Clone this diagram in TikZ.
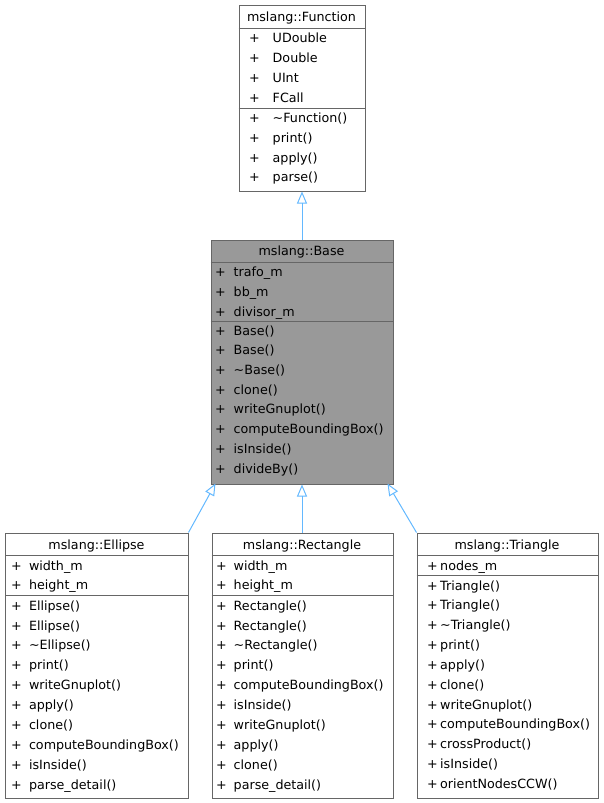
\documentclass[tikz,border=0pt]{standalone}
\usepackage{fontspec}
\setmainfont{DejaVu Sans}
\usetikzlibrary{arrows.meta}
\definecolor{edgeblue}{HTML}{63B8FF}
\definecolor{boxline}{HTML}{666666}
\definecolor{basefill}{HTML}{999999}
\tikzset{
  classbox/.style={draw=boxline, line width=1pt, fill=white, inner sep=0pt, anchor=north west},
  divider/.style={draw=boxline, line width=1pt},
  txt/.style={inner sep=0pt, anchor=base west, font=\fontsize{12.7}{15}\selectfont},
  ttl/.style={inner sep=0pt, anchor=base, font=\fontsize{12.7}{15}\selectfont},
  plus/.style={inner sep=0pt, anchor=base, font=\fontsize{12.7}{15}\selectfont},
  inh/.style={draw=edgeblue, line width=1pt, -{Triangle[open, length=12pt, width=10pt]}}
}
\begin{document}
\begin{tikzpicture}[x=1pt,y=-1pt]
\useasboundingbox (-0.5,-0.5) rectangle (602.5,802.5);
% ---------- Function ----------
\node[classbox, minimum width=126pt, minimum height=185pt] (fn) at (238,5) {};
\draw[divider] (238,28) -- (364,28);
\draw[divider] (238,108) -- (364,108);
\node[ttl] (fnt) at (301,21) {mslang::Function};
\foreach \t [count=\i] in {UDouble,Double,UInt,FCall,{\char"223C Function()},print(),apply(),parse()}{
  \pgfmathsetmacro\yy{ifthenelse(\i<5, 37+(\i-1)*20, 117.3+(\i-5)*19.8)+4.6}
  \node[plus] (fnp\i) at (254,\yy) {+};
  \node[txt] (fnr\i) at (272,\yy) {\t};
}
% ---------- Base ----------
\node[classbox, fill=basefill, minimum width=182pt, minimum height=244pt] (base) at (210,239) {};
\draw[divider] (210,262) -- (392,262);
\draw[divider] (210,321) -- (392,321);
\node[ttl] (baset) at (301,255) {mslang::Base};
\foreach \t [count=\i] in {trafo\_m,bb\_m,divisor\_m,Base(),Base(),{\char"223C Base()},clone(),writeGnuplot(),computeBoundingBox(),isInside(),divideBy()}{
  \pgfmathsetmacro\yy{ifthenelse(\i<4, 271.7+(\i-1)*19.6, 330+(\i-4)*19.7)+4.6}
  \node[plus] (bp\i) at (220,\yy) {+};
  \node[txt] (br\i) at (233,\yy) {\t};
}
% ---------- Ellipse ----------
\node[classbox, minimum width=182pt, minimum height=265pt] (ell) at (5,532) {};
\draw[divider] (5,555) -- (187,555);
\draw[divider] (5,595) -- (187,595);
\node[ttl] (ellt) at (96,548.5) {mslang::Ellipse};
\foreach \t [count=\i] in {width\_m,height\_m,Ellipse(),Ellipse(),{\char"223C Ellipse()},print(),writeGnuplot(),apply(),clone(),computeBoundingBox(),isInside(),parse\_detail()}{
  \pgfmathsetmacro\yy{ifthenelse(\i<3, 565+(\i-1)*19.5, 605+(\i-3)*19.9)+4.6}
  \node[plus] (ep\i) at (16,\yy) {+};
  \node[txt] (er\i) at (28.3,\yy) {\t};
}
% ---------- Rectangle ----------
\node[classbox, minimum width=181pt, minimum height=265pt] (rect) at (211,532) {};
\draw[divider] (211,555) -- (392,555);
\draw[divider] (211,595) -- (392,595);
\node[ttl] (rectt) at (301.5,548.5) {mslang::Rectangle};
\foreach \t [count=\i] in {width\_m,height\_m,Rectangle(),Rectangle(),{\char"223C Rectangle()},print(),computeBoundingBox(),isInside(),writeGnuplot(),apply(),clone(),parse\_detail()}{
  \pgfmathsetmacro\yy{ifthenelse(\i<3, 565+(\i-1)*19.5, 605+(\i-3)*19.9)+4.6}
  \node[plus] (rp\i) at (221,\yy) {+};
  \node[txt] (rr\i) at (233,\yy) {\t};
}
% ---------- Triangle ----------
\node[classbox, minimum width=181pt, minimum height=265pt] (tri) at (416,532) {};
\draw[divider] (416,555) -- (597,555);
\draw[divider] (416,575) -- (597,575);
\node[ttl] (trit) at (506.5,548.5) {mslang::Triangle};
\foreach \t [count=\i] in {nodes\_m,Triangle(),Triangle(),{\char"223C Triangle()},print(),apply(),clone(),writeGnuplot(),computeBoundingBox(),crossProduct(),isInside(),orientNodesCCW()}{
  \pgfmathsetmacro\yy{ifthenelse(\i<2, 565, 585+(\i-2)*19.83)+4.6}
  \node[plus] (tp\i) at (432,\yy) {+};
  \node[txt] (tr\i) at (439.5,\yy) {\t};
}
% ---------- connectors ----------
\coordinate (bL) at (215,483);
\coordinate (bR) at (387,483);
\draw[inh] (base.north) -- (fn.south);
\draw[inh] (ell.north east) -- (bL);
\draw[inh] (base.south |- rect.north) -- (base.south);
\draw[inh] (tri.north west) -- (bR);
\end{tikzpicture}
\end{document}
